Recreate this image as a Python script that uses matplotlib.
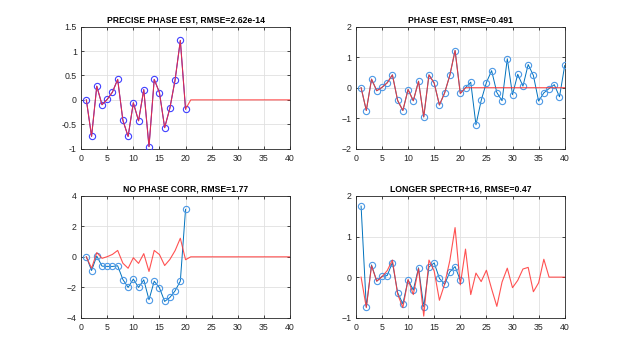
import matplotlib
matplotlib.use("Agg")
import matplotlib.pyplot as plt
import numpy as np

x = np.arange(1, 41)
x20 = np.arange(1, 21)

true_signal = [0.0, -0.75, 0.28, -0.10, 0.01, 0.16, 0.42, -0.42, -0.75, -0.06,
               -0.43, 0.21, -0.96, 0.42, 0.15, -0.57, -0.17, 0.41, 1.22, -0.19,
               0, 0, 0, 0, 0, 0, 0, 0, 0, 0,
               0, 0, 0, 0, 0, 0, 0, 0, 0, 0]

precise_est = true_signal[:20]

phase_est = true_signal[:20] + [0.0, 0.18, -1.22, -0.42, 0.17, 0.56, -0.16, -0.43, 0.95, -0.23,
                                0.44, 0.05, 0.76, 0.40, -0.44, -0.17, -0.03, 0.10, -0.30, 0.73]

no_corr_est = [0.0, -0.90, 0.05, -0.61, -0.63, -0.63, -0.59, -1.49, -2.01, -1.46,
               -2.01, -1.51, -2.82, -1.60, -2.03, -2.93, -2.67, -2.23, -1.60, 3.12]

longer_true = true_signal[:20] + [0.69, -0.43, 0.10, -0.11, 0.17, -0.29, -0.72, -0.12, 0.22, -0.26,
                                  -0.08, 0.20, 0.24, -0.36, -0.14, 0.44, 0.0, 0.0, 0.0, 0.0]

longer_est = [1.75, -0.74, 0.30, -0.10, 0.02, 0.04, 0.36, -0.38, -0.66, -0.07,
              -0.32, 0.23, -0.73, 0.25, 0.35, -0.03, -0.18, 0.13, 0.26, -0.08]

titles = ["PRECISE PHASE EST, RMSE=2.62e-14", "PHASE EST, RMSE=0.491",
          "NO PHASE CORR, RMSE=1.77", "LONGER SPECTR+16, RMSE=0.47"]

plt.rcParams['font.family'] = ['Liberation Sans Narrow', 'Liberation Sans', 'DejaVu Sans']

BLUE = (0, 0.447, 0.741)
LBLUE = (0.3, 0.6, 0.9)
RED = (1.0, 0.2, 0.2)
TXT = (0.15, 0.15, 0.15)

fig = plt.figure(figsize=(6.24, 3.57), dpi=100)
positions = [[0.13, 0.5838, 0.3347, 0.3412], [0.5703, 0.5838, 0.3347, 0.3412],
             [0.13, 0.11, 0.3347, 0.3412], [0.5703, 0.11, 0.3347, 0.3412]]
axs = [fig.add_axes(p) for p in positions]

mk = dict(marker='o', ms=4.5, mfc='none', mew=0.8)

# panel 1
ax = axs[0]
ax.plot(x20, precise_est, '-', color=(0, 0, 1), lw=0.7, mec=(0.25, 0.25, 1), zorder=3, **mk)
ax.plot(x, true_signal, '-', color=RED, lw=0.8, alpha=0.85, zorder=4)
ax.set_ylim(-1, 1.5)
ax.set_yticks(np.arange(-1, 1.51, 0.5))
ax.set_yticklabels(['-1', '-0.5', '0', '0.5', '1', '1.5'])

# panel 2
ax = axs[1]
ax.plot(x, phase_est, '-', color=BLUE, lw=0.7, mec=LBLUE, zorder=3, **mk)
ax.plot(x, true_signal, '-', color=RED, lw=0.8, alpha=0.85, zorder=4)
ax.set_ylim(-2, 2)
ax.set_yticks([-2, -1, 0, 1, 2])

# panel 3
ax = axs[2]
ax.plot(x20, no_corr_est, '-', color=BLUE, lw=0.7, mec=LBLUE, zorder=3, **mk)
ax.plot(x, true_signal, '-', color=RED, lw=0.8, alpha=0.85, zorder=4)
ax.set_ylim(-4, 4)
ax.set_yticks([-4, -2, 0, 2, 4])

# panel 4
ax = axs[3]
ax.plot(x20, longer_est, '-', color=BLUE, lw=0.7, mec=LBLUE, zorder=3, **mk)
ax.plot(x, longer_true, '-', color=RED, lw=0.8, alpha=0.85, zorder=4)
ax.set_ylim(-1, 2)
ax.set_yticks([-1, 0, 1, 2])

for ax, t in zip(axs, titles):
    ax.set_xlim(0, 40)
    ax.set_xticks(np.arange(0, 41, 5))
    ax.grid(True, color=(0.88, 0.88, 0.88), lw=0.6)
    ax.set_axisbelow(True)
    ax.tick_params(direction='in', length=2.5, width=0.6, colors=TXT, labelsize=6.3,
                   top=True, right=True)
    ax.tick_params(axis='x', pad=4)
    ax.tick_params(axis='y', pad=3)
    for s in ax.spines.values():
        s.set_color(TXT)
        s.set_linewidth(0.6)
    ax.set_title(t, fontsize=6.2, fontweight='bold', color='black', pad=3)

fig.savefig("out.png", dpi=100)
